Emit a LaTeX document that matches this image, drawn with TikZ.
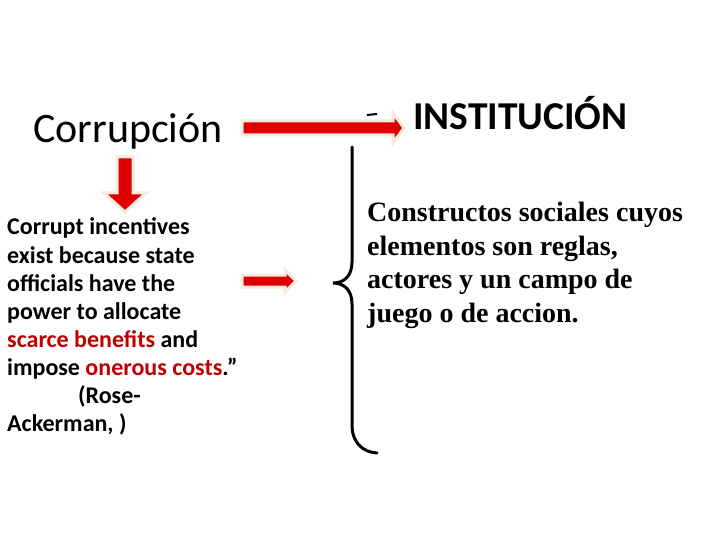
\documentclass[tikz,border=0pt]{standalone}
\usepackage{fontspec}
\setmainfont{Carlito}
\newfontfamily\serifbold[BoldFont={Liberation Serif Bold}]{Liberation Serif}
\definecolor{arrred}{RGB}{222,0,0}
\definecolor{halo}{RGB}{247,234,222}
\definecolor{txtred}{RGB}{192,0,0}
\begin{document}
\begin{tikzpicture}[x=1pt,y=-1pt,
  arrowshape/.style={fill=arrred,draw=halo,line width=3pt,line join=miter},
  quoteline/.style={anchor=base west,inner sep=0pt,font=\fontsize{24}{28}\selectfont\bfseries},
  rightline/.style={anchor=base west,inner sep=0pt,font=\fontsize{28}{33}\selectfont\serifbold\bfseries},
  brace/.style={draw=black,line width=3pt,line cap=round}]
\useasboundingbox (0,0) rectangle (720,540);
\fill[white] (0,0) rectangle (720,540);
% titles
\node[anchor=base west,inner sep=0pt,font=\fontsize{42}{48}\selectfont] (corr) at (33,143) {Corrupción};
\node[anchor=base west,inner sep=0pt,font=\fontsize{39.5}{44}\selectfont\bfseries] (inst) at (413,130) {INSTITUCIÓN};
% big arrow
\path[arrowshape] (242,121) -- (393,121) -- (393,113) -- (404,128) -- (393,143) -- (393,135) -- (242,135) -- cycle;
\draw[line width=2pt] (367,115) -- (377,114);
% down arrow
\path[arrowshape] (117,157) -- (133,157) -- (133,193) -- (146,193) -- (125,212) -- (104,193) -- (117,193) -- cycle;
% small right arrow
\path[arrowshape] (242,275) -- (285,275) -- (285,270) -- (296,281) -- (285,292) -- (285,287) -- (242,287) -- cycle;
% brace
\draw[brace] (352,147) -- (352,262) .. controls (352,276) and (344,283) .. (333,283) .. controls (344,283) and (352,290) .. (352,304) -- (352,425) .. controls (352,442) and (362,452) .. (377,453);
% quote
\node[quoteline] (l1) at (7,235) {Corrupt incentives};
\node[quoteline] (l2) at (7,263) {exist because state};
\node[quoteline] (l3) at (7,291) {officials have the};
\node[quoteline] (l4) at (7,319) {power to allocate};
\node[quoteline] (l5) at (7,347) {\textcolor{txtred}{scarce benefits} and};
\node[quoteline] (l6) at (7,375) {impose \textcolor{txtred}{onerous costs}.”};
\node[quoteline] (l7) at (78,403) {(Rose-};
\node[quoteline] (l8) at (7,431) {Ackerman, )};
% right text
\node[rightline] (r1) at (367,222) {Constructos sociales cuyos};
\node[rightline] (r2) at (367,255) {elementos son reglas,};
\node[rightline] (r3) at (367,288) {actores y un campo de};
\node[rightline] (r4) at (367,322) {juego o de accion.};
\end{tikzpicture}
\end{document}
